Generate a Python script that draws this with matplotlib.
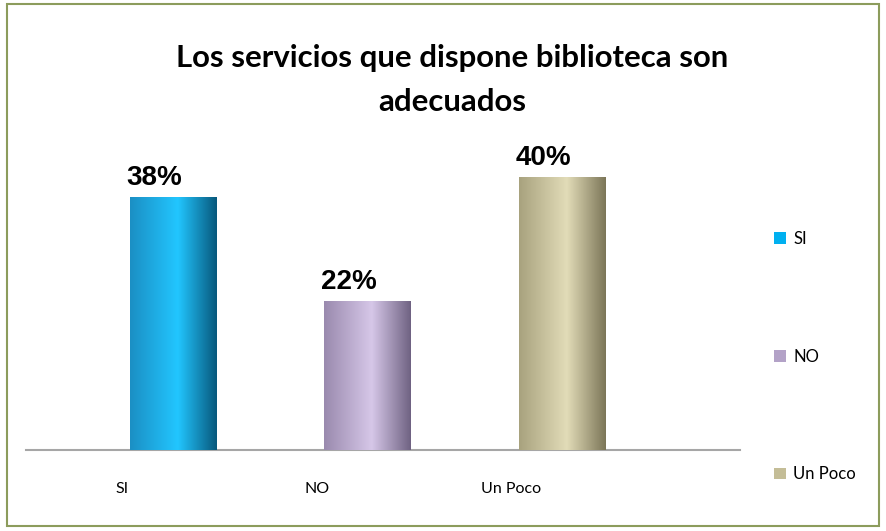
import numpy as np
import matplotlib.pyplot as plt
from matplotlib.colors import LinearSegmentedColormap
from matplotlib.patches import Patch, Rectangle

categories = ["SI", "NO", "Un Poco"]
values = [37.5, 22.1, 40.4]          # bar heights
value_labels = ["38%", "22%", "40%"]
base_colors = ["#00b0f0", "#b3a2c7", "#c4bd97"]
# dark-left, light-middle, darker-right for the cylinder look
shades = [
    ["#1b8fc4", "#22c6ff", "#08587c"],
    ["#9a8aae", "#d6c7e8", "#6f6282"],
    ["#a8a27e", "#e2dcb8", "#7c7658"],
]
title = "Los servicios que dispone biblioteca son\nadecuados"

fig = plt.figure(figsize=(8.86, 5.31), dpi=100)
fig.patches.append(Rectangle((0.008, 0.01), 0.984, 0.982, transform=fig.transFigure,
                             fill=False, edgecolor="#8c9c5c", linewidth=1.5))

ax = fig.add_axes([0.0293, 0.1525, 0.806, 0.572])
x = np.arange(len(categories))
width = 0.447
bars = ax.bar(x, values, width=width, color=base_colors, zorder=2)

grad = np.linspace(0, 1, 256).reshape(1, -1)
for bar, sh in zip(bars, shades):
    cmap = LinearSegmentedColormap.from_list("g", [(0, sh[0]), (0.55, sh[1]), (1, sh[2])])
    x0, y0 = bar.get_x(), bar.get_y()
    im = ax.imshow(grad, cmap=cmap, aspect="auto", zorder=3,
                   extent=[x0, x0 + bar.get_width(), y0, y0 + bar.get_height()])
    im.set_clip_path(bar)

for b, lab in zip(bars, value_labels):
    ax.annotate(lab, (b.get_x() + b.get_width() / 2, b.get_height()),
                xytext=(-13.7, 4.5), textcoords="offset points", ha="center", va="bottom",
                fontsize=20, fontweight="bold", family="Liberation Sans")

ax.set_xlim(-0.756, 2.915)
ax.set_ylim(0, 45)
for s in ["top", "right", "left"]:
    ax.spines[s].set_visible(False)
ax.spines["bottom"].set_color("#a6a6a6")
ax.spines["bottom"].set_linewidth(1.5)
ax.set_yticks([])
ax.set_xticks(x - 0.26)
ax.set_xticklabels(categories, fontsize=11.5, family="Lato")
ax.tick_params(axis="x", length=0, pad=23)

fig.text(0.51, 0.849, title, ha="center", va="center", fontsize=22.4,
         fontweight="bold", family="Lato", linespacing=1.68)

handles = [Patch(facecolor=c) for c in base_colors]
fig.legend(handles, categories, loc="center left", bbox_to_anchor=(0.857, 0.328),
           frameon=False, prop={"family": "Lato", "size": 12},
           handlelength=0.7, handleheight=0.7, handletextpad=0.45, labelspacing=6.1)

fig.savefig("out.png", dpi=100)
